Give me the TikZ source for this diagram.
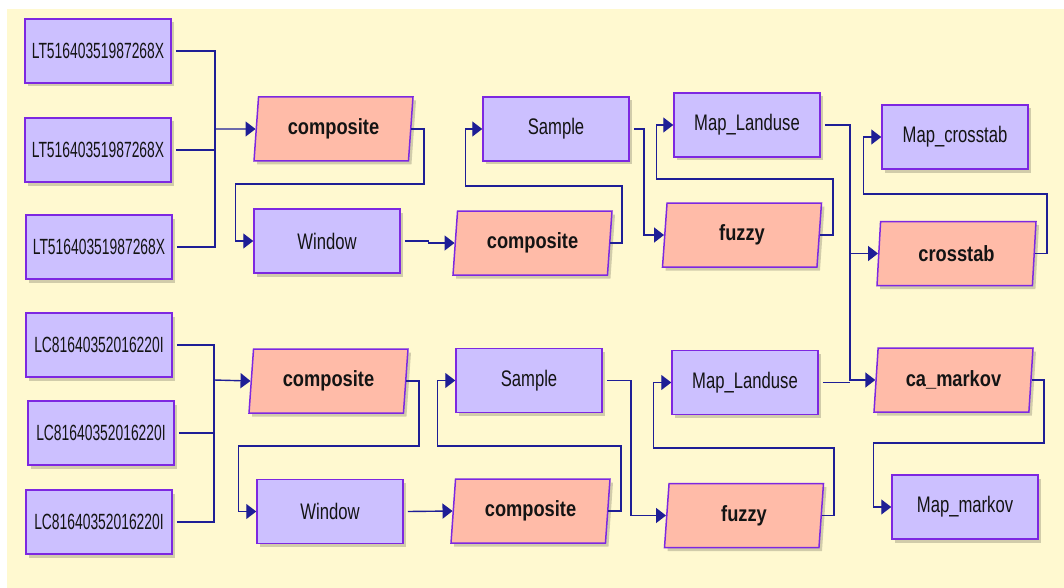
\documentclass[tikz,border=0pt]{standalone}
\usepackage{fontspec}
\setmainfont{Liberation Sans}
\newfontfamily\boxfont[FakeStretch=0.74]{Liberation Sans}
\newfontfamily\idfont[FakeStretch=0.63]{Liberation Sans}
\newfontfamily\toolfont[FakeStretch=0.83]{Liberation Sans}
\usetikzlibrary{shapes.geometric,arrows.meta,shadows}
\definecolor{cream}{RGB}{255,249,208}
\definecolor{boxfill}{RGB}{204,192,255}
\definecolor{toolfill}{RGB}{255,187,168}
\definecolor{border}{RGB}{125,40,225}
\definecolor{wire}{RGB}{30,30,150}
\definecolor{ink}{RGB}{20,20,20}
\tikzset{
  shad/.style={drop shadow={shadow xshift=3pt,shadow yshift=-3.5pt,fill=black,opacity=0.18}},
  databox/.style={rectangle,draw=border,line width=1.5pt,fill=boxfill,shad,text=ink,
    minimum width=146pt,minimum height=64pt,inner sep=0pt,
    font=\boxfont\fontsize{22.5}{24}\selectfont},
  idbox/.style={databox,font=\idfont\fontsize{22}{24}\selectfont},
  toolbox/.style={trapezium,trapezium left angle=77.5,trapezium right angle=102.5,
    trapezium stretches body,draw=border,line width=1.5pt,fill=toolfill,shad,text=ink,
    minimum width=159pt,minimum height=64pt,inner sep=0pt,
    font=\toolfont\bfseries\fontsize{22}{24}\selectfont},
  wireline/.style={draw=wire,line width=1.4pt},
  arr/.style={wireline,-{Triangle[length=10pt,width=15pt]}}
}
\begin{document}
\begin{tikzpicture}[x=1pt,y=-1pt]
\useasboundingbox (0,0) rectangle (1064,588);
\fill[white] (0,0) rectangle (1064,588);
\fill[cream] (7,9) rectangle (1064,588);

% top group
\node[idbox] (lt1) at (98,51) {LT51640351987268X};
\node[idbox] (lt2) at (98,150) {LT51640351987268X};
\node[idbox] (lt3) at (99,247) {LT51640351987268X};
\node[toolbox] (comp1) at (333.5,129) {composite};
\node[databox] (win1) at (327,241) {Window};
\node[toolbox] (comp2) at (532.5,243) {composite};
\node[databox] (samp1) at (556,129) {Sample};
\node[toolbox] (fuz1) at (742,235) {fuzzy};
\node[databox] (ml1) at (747,125) {Map\_Landuse};
\node[databox] (mct) at (955,137) {Map\_crosstab};
\node[toolbox] (ct) at (956.5,253.5) {crosstab};
\node[toolbox] (cam) at (953.5,380) {ca\_markov};
\node[databox] (mm) at (965,507) {Map\_markov};

% bottom group
\node[idbox] (lc1) at (99,345) {LC81640352016220I};
\node[idbox] (lc2) at (101,433) {LC81640352016220I};
\node[idbox] (lc3) at (99,522) {LC81640352016220I};
\node[toolbox] (comp3) at (328.5,381) {composite};
\node[databox] (win2) at (330,511.5) {Window};
\node[databox] (samp2) at (529,380.5) {Sample};
\node[toolbox] (comp4) at (530.5,511) {composite};
\node[toolbox] (fuz2) at (744,515.5) {fuzzy};
\node[databox] (ml2) at (745,382.5) {Map\_Landuse};

% junctions
\coordinate (J1) at (215,129);
\coordinate (J2) at (214,380);
\coordinate (bus) at (850,0);

% top connectors
\draw[wireline] ([xshift=4pt]lt1.east) -| (J1);
\draw[wireline] ([xshift=4pt]lt3.east) -| (J1);
\draw[wireline] ([xshift=4pt]lt2.east) -- (lt2.east -| J1);
\draw[arr] (J1) -- (comp1.west);
\draw[arr] (comp1.east) -| (424,184) -| ([xshift=-18pt]win1.west) -- (win1.west);
\draw[arr] ([xshift=4pt]win1.east) -- ++(24,0) |- (comp2.west);
\draw[arr] (comp2.east) -| (622,186) -| ([xshift=-17pt]samp1.west) -- (samp1.west);
\draw[arr] ([xshift=4pt]samp1.east) -| ([xshift=-20pt]fuz1.west) -- (fuz1.west);
\draw[arr] (fuz1.east) -| (833,179) -| ([xshift=-17pt]ml1.west) -- (ml1.west);
\draw[arr] ([xshift=4pt]ml1.east) -| (bus |- cam.west) -- (cam.west);
\draw[arr] (bus |- ct.west) -- (ct.west);
\draw[arr] (ct.east) -| (1047,194) -| ([xshift=-18pt]mct.west) -- (mct.west);
\draw[arr] (cam.east) -| (1044,443) -| ([xshift=-18pt]mm.west) -- (mm.west);

% bottom connectors
\draw[wireline] ([xshift=4pt]lc1.east) -| (J2);
\draw[wireline] ([xshift=4pt]lc3.east) -| (J2);
\draw[wireline] ([xshift=4pt]lc2.east) -- (lc2.east -| J2);
\draw[arr] (J2) -- (comp3.west);
\draw[arr] (comp3.east) -| (419,446) -| ([xshift=-18pt]win2.west) -- (win2.west);
\draw[arr] ([xshift=4pt]win2.east) -- (comp4.west);
\draw[arr] (comp4.east) -| (621,446) -| ([xshift=-18pt]samp2.west) -- (samp2.west);
\draw[arr] ([xshift=4pt]samp2.east) -| ([xshift=-35pt]fuz2.west) -- (fuz2.west);
\draw[arr] (fuz2.east) -| (834,448) -| ([xshift=-18pt]ml2.west) -- (ml2.west);
\draw[wireline] ([xshift=4pt]ml2.east) -- (bus |- ml2.east);
\end{tikzpicture}
\end{document}
